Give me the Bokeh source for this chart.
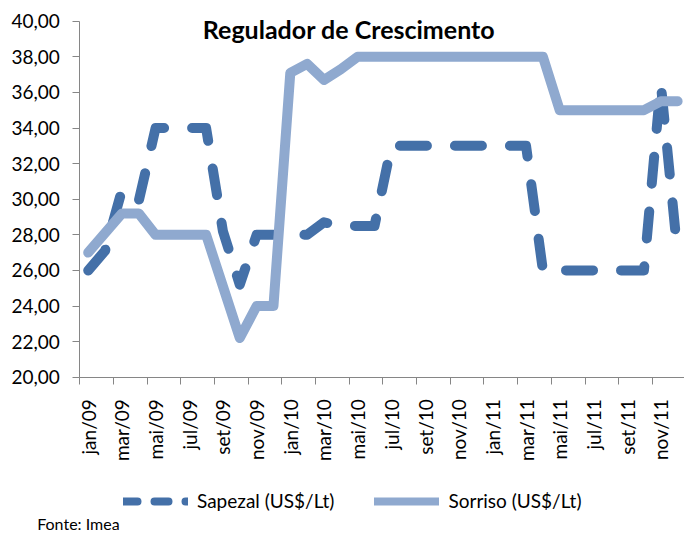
import math
from bokeh.plotting import figure
from bokeh.models import Range1d, FixedTicker, Label, Legend, LegendItem
from bokeh.embed import file_html
from bokeh.resources import INLINE

# ---- data -------------------------------------------------------------
months = ["jan/09", "fev/09", "mar/09", "abr/09", "mai/09", "jun/09",
          "jul/09", "ago/09", "set/09", "out/09", "nov/09", "dez/09",
          "jan/10", "fev/10", "mar/10", "abr/10", "mai/10", "jun/10",
          "jul/10", "ago/10", "set/10", "out/10", "nov/10", "dez/10",
          "jan/11", "fev/11", "mar/11", "abr/11", "mai/11", "jun/11",
          "jul/11", "ago/11", "set/11", "out/11", "nov/11", "dez/11"]

sapezal = [26.0, 27.1, 30.5, 29.9, 34.0, 34.0, 34.0, 34.0, 28.2, 25.2, 28.0, 28.0,
           28.0, 28.0, 28.7, 28.5, 28.5, 28.5, 33.0, 33.0, 33.0, 33.0, 33.0, 33.0,
           33.0, 33.0, 33.0, 26.0, 26.0, 26.0, 26.0, 26.0, 26.0, 26.0, 36.5, 26.9]

sorriso = [27.0, 28.1, 29.2, 29.2, 28.0, 28.0, 28.0, 28.0, 25.1, 22.2, 24.0, 24.0,
           37.1, 37.6, 36.7, 37.3, 38.0, 38.0, 38.0, 38.0, 38.0, 38.0, 38.0, 38.0,
           38.0, 38.0, 38.0, 38.0, 35.0, 35.0, 35.0, 35.0, 35.0, 35.0, 35.5, 35.5]

y_ticks = [20, 22, 24, 26, 28, 30, 32, 34, 36, 38, 40]
series_names = ["Sapezal (US$/Lt)", "Sorriso (US$/Lt)"]
title_text = "Regulador de Crescimento"
source_text = "Fonte: Imea"

# ---- style / layout -----------------------------------------------------
FONT = "Lato"
C_SAP = "#4470A8"
C_SOR = "#8FA9CF"
AXIS = "#868686"
W, H = 684, 535
PLOT_LEFT, PLOT_TOP, PLOT_BOTTOM = 79.3, 20.7, 376.7   # pixel edges of plot area
MONTH_PX = 16.84
Y_PX = (PLOT_BOTTOM - PLOT_TOP) / (y_ticks[-1] - y_ticks[0])

x = list(range(len(months)))

x0 = -0.5 - PLOT_LEFT / MONTH_PX
x1 = -0.5 + (W - PLOT_LEFT) / MONTH_PX
y0 = y_ticks[0] - (H - PLOT_BOTTOM) / Y_PX
y1 = y_ticks[-1] + PLOT_TOP / Y_PX

p = figure(width=W, height=H, output_backend="svg", toolbar_location=None,
           x_range=Range1d(x0, x1), y_range=Range1d(y0, y1),
           min_border=0, outline_line_color=None,
           background_fill_color="white", border_fill_color="white")

p.xgrid.visible = False
p.ygrid.visible = False

# y axis (drawn inside the canvas at the left edge of the plot area)
p.yaxis.fixed_location = -0.5
p.yaxis.bounds = (y_ticks[0], y_ticks[-1])
p.yaxis.ticker = FixedTicker(ticks=y_ticks, minor_ticks=[])
p.yaxis.major_label_overrides = {v: f"{v:.2f}".replace(".", ",") for v in y_ticks}
p.yaxis.major_label_text_font = FONT
p.yaxis.major_label_text_font_size = "19px"
p.yaxis.major_label_text_color = "black"
p.yaxis.major_label_standoff = 13
p.yaxis.major_tick_in = 0
p.yaxis.major_tick_out = 7
p.yaxis.axis_line_color = AXIS
p.yaxis.major_tick_line_color = AXIS
p.yaxis.minor_tick_line_color = None

# x axis: labels at month centres (every 2nd), ticks at category boundaries
label_pos = x[::2]
p.xaxis.fixed_location = y_ticks[0]
p.xaxis.bounds = (-0.5, 36)
p.xaxis.ticker = FixedTicker(ticks=label_pos, minor_ticks=[i - 0.5 for i in label_pos])
p.xaxis.major_label_overrides = {i: months[i] for i in label_pos}
p.xaxis.major_label_orientation = math.pi / 2
p.xaxis.major_label_text_font = FONT
p.xaxis.major_label_text_font_size = "19px"
p.xaxis.major_label_text_color = "black"
p.xaxis.major_tick_line_color = None
p.xaxis.major_tick_in = 0
p.xaxis.major_tick_out = 0
p.xaxis.major_label_standoff = 15
p.xaxis.minor_tick_in = 0
p.xaxis.minor_tick_out = 7
p.xaxis.minor_tick_line_color = AXIS
p.xaxis.axis_line_color = AXIS

# series
p.line(x, sapezal, line_color=C_SAP, line_width=10, line_dash="27 28",
       line_cap="round", line_join="round")
p.line(x, sorriso, line_color=C_SOR, line_width=10,
       line_cap="round", line_join="round")

# legend proxies (same data, hidden; only their style is shown in the legend)
l1 = p.line(x, sapezal, line_color=C_SAP, line_width=8, line_dash="14 17",
            line_cap="round", visible=False)
l2 = p.line(x, sorriso, line_color=C_SOR, line_width=8, line_cap="round",
            visible=False)
legend = Legend(items=[LegendItem(label=series_names[0], renderers=[l1]),
                       LegendItem(label=series_names[1], renderers=[l2])],
                location=(123, H - 512), orientation="horizontal",
                glyph_width=65, glyph_height=20, label_height=20,
                label_standoff=9, spacing=40, padding=0, margin=0,
                border_line_color=None, background_fill_alpha=0,
                inactive_fill_alpha=0,
                label_text_font=FONT, label_text_font_size="19px",
                label_text_color="black")
p.add_layout(legend)

# title (overlaid on plot area) and source note
p.add_layout(Label(x=348.5, y=H - 28, x_units="screen", y_units="screen",
                   text=title_text, text_align="center", text_baseline="middle",
                   text_font=FONT, text_font_style="bold", text_font_size="25px",
                   text_color="black"))
p.add_layout(Label(x=36.7, y=H - 523, x_units="screen", y_units="screen",
                   text=source_text, text_align="left", text_baseline="middle",
                   text_font=FONT, text_font_size="16px", text_color="black"))

open("out.html", "w").write(file_html(p, INLINE))
